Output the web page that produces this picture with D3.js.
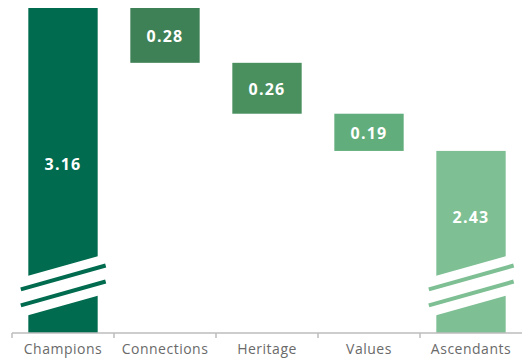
<!DOCTYPE html>
<html>
<head>
<meta charset="utf-8">
<script src="https://cdn.jsdelivr.net/npm/d3@7"></script>
<style>
  html, body { margin: 0; padding: 0; background: #fff; }
  svg { display: block; }
</style>
</head>
<body>
<svg id="chart" width="522" height="361"></svg>
<script>
// Waterfall: two totals and the three steps between them
const categories = ["Champions", "Connections", "Heritage", "Values", "Ascendants"];
const values = [3.16, -0.28, -0.26, -0.19, 2.43];
const isTotal = [true, false, false, false, true];
const labels = ["3.16", "0.28", "0.26", "0.19", "2.43"];
const colors = ["#006b4e", "#3f8156", "#4a905f", "#61ad7b", "#7ebf94"];

const W = 522, H = 361;
const svg = d3.select("#chart");

const x = d3.scaleBand().domain(categories).range([12, 522]).paddingInner(0.32).paddingOuter(0.16);
// value axis is cut: it starts well above zero
const y = d3.scaleLinear().domain([1.5, 3.16]).range([333, 8]);

// compute the spans of each bar
let running = 0;
const bars = categories.map((c, i) => {
  let lo, hi;
  if (isTotal[i]) { lo = y.domain()[0]; hi = values[i]; running = values[i]; }
  else { hi = running; lo = running + values[i]; running = lo; }
  return { c, i, lo, hi, total: isTotal[i] };
});

const g = svg.append("g");
g.selectAll("rect.bar").data(bars).join("rect")
  .attr("class", "bar")
  .attr("x", d => x(d.c))
  .attr("width", x.bandwidth())
  .attr("y", d => y(d.hi))
  .attr("height", d => y(d.lo) - y(d.hi))
  .attr("fill", d => colors[d.i]);

// break marks on the total bars
const slope = -0.28;
const bw = x.bandwidth();
bars.filter(d => d.total).forEach(d => {
  const x0 = x(d.c), cx = x0 + bw / 2;
  const yTop = 266, yBot = 305.5;
  const at = (yc, xx) => yc + slope * (xx - cx);
  // white cut through the bar
  g.append("path")
    .attr("d", `M${x0 - 1},${at(yTop, x0 - 1)} L${x0 + bw + 1},${at(yTop, x0 + bw + 1)} L${x0 + bw + 1},${at(yBot, x0 + bw + 1)} L${x0 - 1},${at(yBot, x0 - 1)} Z`)
    .attr("fill", "#fff");
  // two slanted strokes across the cut
  [277.5, 293.5].forEach(yc => {
    const xa = x0 - 7.5, xb = x0 + bw + 8;
    g.append("line")
      .attr("x1", xa).attr("y1", at(yc, xa))
      .attr("x2", xb).attr("y2", at(yc, xb))
      .attr("stroke", colors[d.i]).attr("stroke-width", 4);
  });
});

// value labels
const labelY = d => {
  if (d.i === 0) return 164;
  if (d.i === 4) return 216.5;
  return (y(d.hi) + y(d.lo)) / 2 + 2;
};
g.selectAll("text.val").data(bars).join("text")
  .attr("class", "val")
  .attr("x", d => x(d.c) + bw / 2)
  .attr("y", d => d.total ? labelY(d) : (y(d.hi) + y(d.lo)) / 2 + 1)
  .attr("text-anchor", "middle")
  .attr("dominant-baseline", "central")
  .attr("fill", "#fff")
  .attr("font-family", "'Open Sans', sans-serif")
  .attr("font-weight", 700)
  .attr("font-size", 16)
  .attr("letter-spacing", 1.2)
  .text(d => labels[d.i]);

// category axis
const axis = d3.axisBottom(x).tickSize(0).tickPadding(10);
const ax = svg.append("g").attr("transform", "translate(0,333)").call(axis);
ax.select(".domain").attr("stroke", "#bdbdbd").attr("stroke-width", 1.5)
  .attr("d", "M12,0H522");
ax.selectAll(".tick text")
  .attr("fill", "#6a6a6a")
  .attr("font-family", "'Open Sans', sans-serif")
  .attr("font-size", 14)
  .attr("letter-spacing", 0.5)
  .attr("dy", "0.75em");
// separators between categories
const seps = categories.map(c => x(c) - x.step() * x.paddingInner() / 2);
seps[0] = 12;
ax.selectAll("line.sep").data(seps).join("line")
  .attr("class", "sep")
  .attr("x1", d => d).attr("x2", d => d)
  .attr("y1", 0).attr("y2", 5)
  .attr("stroke", "#bdbdbd").attr("stroke-width", 1.5);
</script>
</body>
</html>
